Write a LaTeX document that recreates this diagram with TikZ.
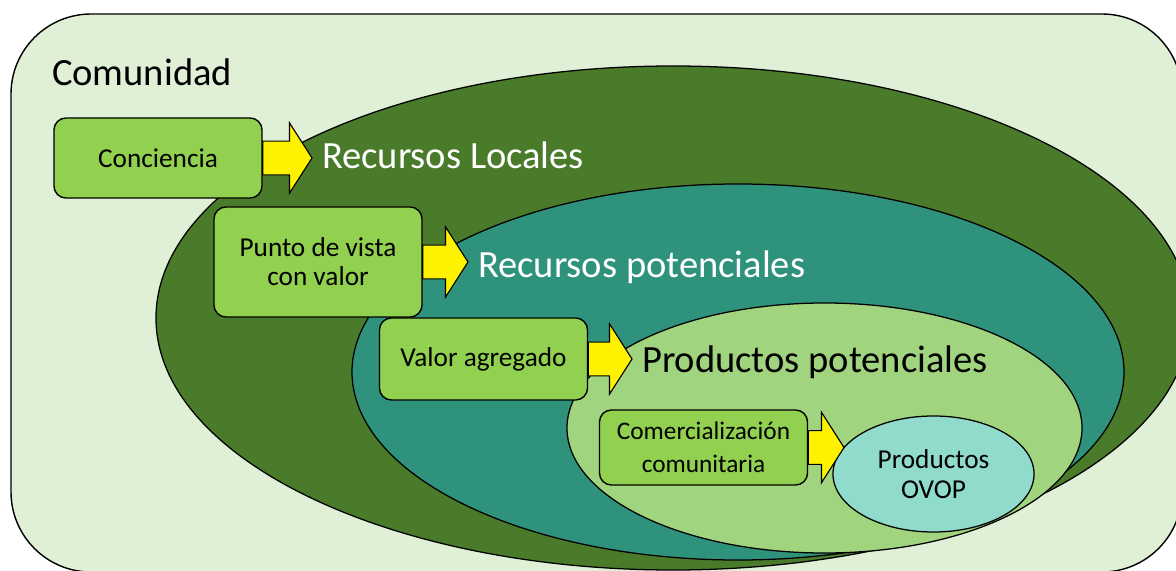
\documentclass[tikz,border=0pt]{standalone}
\usepackage{fontspec}
\setmainfont{Carlito}
\usetikzlibrary{calc,shapes.geometric}
\definecolor{verdecomunidad}{HTML}{DFF0D7}
\definecolor{verdelocales}{HTML}{4A7B2B}
\definecolor{tealpotencial}{HTML}{2E927C}
\definecolor{verdeproductos}{HTML}{A0D47E}
\definecolor{verdecaja}{HTML}{92D050}
\definecolor{tealovop}{HTML}{90DBCB}

\begin{document}
\begin{tikzpicture}[x=0.025cm, y=-0.025cm,
	caja/.style={draw=black, line width=1pt, fill=verdecaja, rounded corners=8.5pt, align=center, inner sep=0pt, minimum width=5.2cm, font=\fontsize{19.4}{20.6}\selectfont},
	titulo/.style={anchor=base west, inner sep=7pt, font=\fontsize{27.4}{30}\selectfont},
	flecha/.style={draw=black, line width=0.8pt, fill=yellow}]
	\path[use as bounding box, clip] (0,0) rectangle (1176,571);
	\draw[fill=verdecomunidad, line width=1pt, rounded corners=57pt] (11,14) rectangle (1182,572);
	% regiones
	\draw[fill=verdelocales, line width=0.9pt] (673,318) ellipse [x radius=517, y radius=252];
	\draw[fill=tealpotencial, line width=0.9pt] (738,372) ellipse [x radius=386, y radius=188];
	\draw[fill=verdeproductos, line width=0.9pt] (824.5,428) ellipse [x radius=257.5, y radius=125];
	\node[titulo] (comunidad) at (42,86) {Comunidad};
	\node[titulo, text=white] (locales) at (312,169) {Recursos Locales};
	\node[titulo, text=white] (recpot) at (468,277) {Recursos potenciales};
	\node[titulo] (prodpot) at (632,372) {Productos potenciales};
	% cajas
	\node[caja, minimum height=2cm] (conciencia) at (158,158) {Conciencia};
	\node[caja, minimum height=2.75cm] (punto) at (318,262) {Punto de vista\\con valor};
	\node[caja, minimum height=2.05cm] (valor) at (483.5,359) {Valor agregado};
	\node[caja, minimum height=1.875cm, font=\fontsize{18}{23.5}\selectfont] (comer) at (703.5,447.5) {Comercialización\\comunitaria};
	\node[draw=black, line width=0.9pt, fill=tealovop, ellipse, inner sep=0pt, minimum width=5.025cm, minimum height=2.9cm, align=center, font=\fontsize{19.4}{21.3}\selectfont] (ovop) at (933.5,474) {Productos\\OVOP};
	\foreach \desde/\hasta in {conciencia/locales.west, punto/recpot.west, valor/prodpot.west, comer/ovop.163}
		\draw[flecha] let \p1=(\desde.east), \p2=(\hasta) in
			(\x1,\y1+12pt) -- (\x2-16pt,\y1+12pt) -- (\x2-16pt,\y1+25pt) -- (\x2,\y1)
			-- (\x2-16pt,\y1-25pt) -- (\x2-16pt,\y1-12pt) -- (\x1,\y1-12pt) -- cycle;
\end{tikzpicture}
\end{document}
